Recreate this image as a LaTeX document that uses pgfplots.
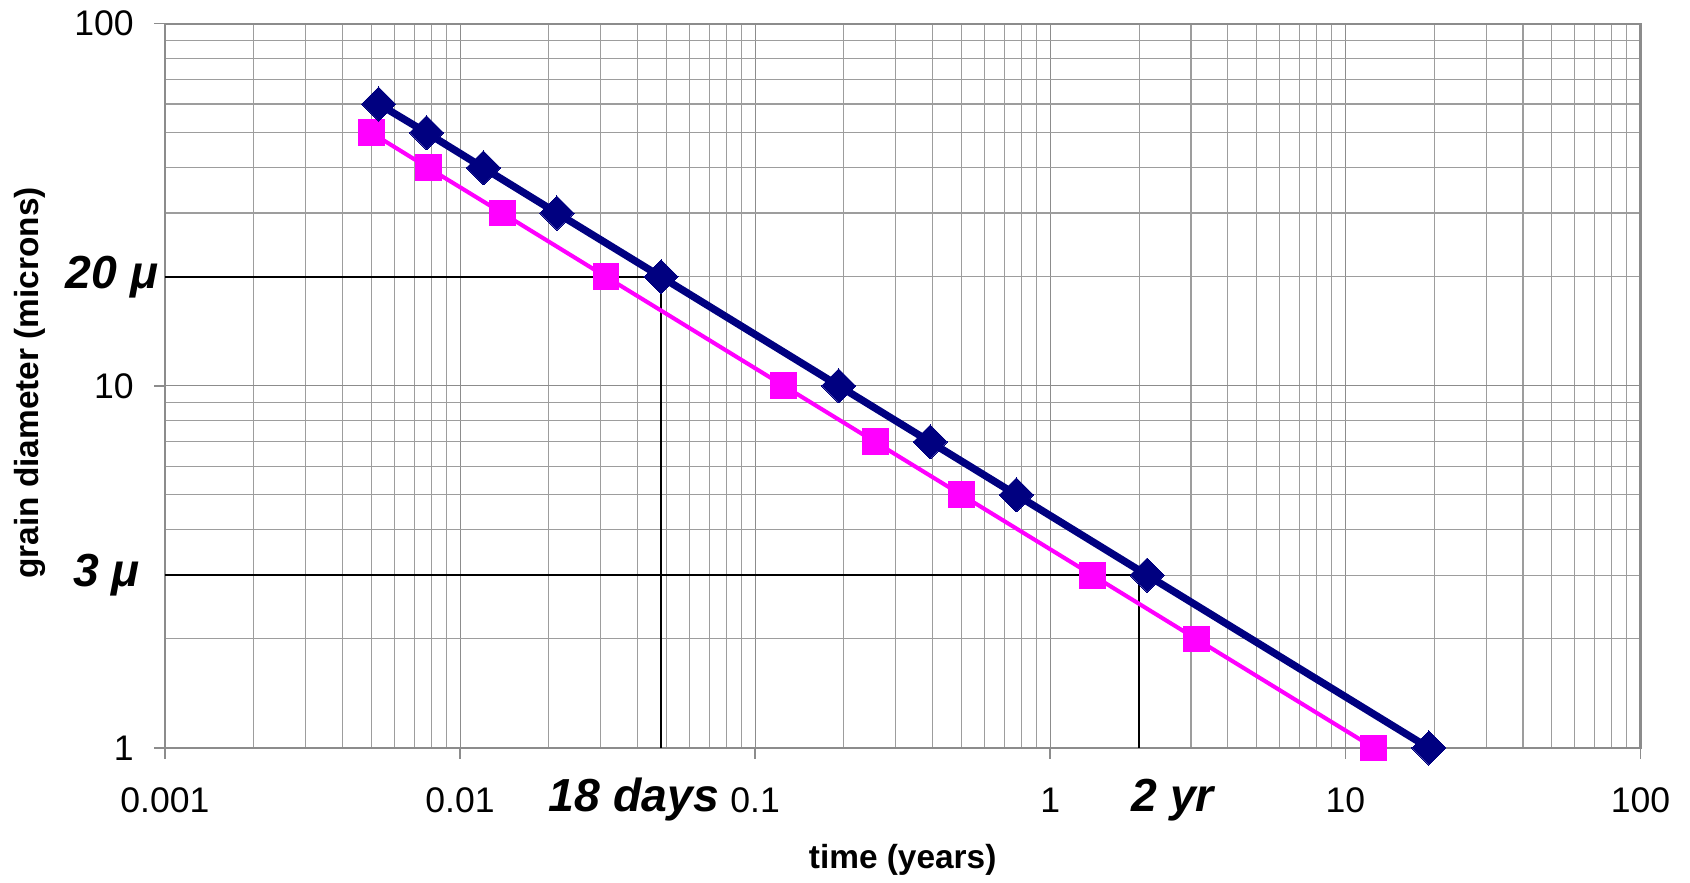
\documentclass[border=0pt]{standalone}
\usepackage{pgfplots}
\pgfplotsset{compat=1.18}
\usepackage{fontspec}
\setmainfont{Liberation Sans}
\definecolor{navyser}{HTML}{000080}
\definecolor{pinkser}{HTML}{FF00FF}
\definecolor{gridc}{HTML}{8C8C8C}
\begin{document}
\begin{tikzpicture}
\begin{axis}[
  scale only axis,
  width=684.5pt, height=336pt,
  xmode=log, ymode=log,
  xmin=0.001, xmax=100, ymin=1, ymax=100,
  xtick={0.001,0.01,0.1,1,10,100},
  xticklabels={0.001,0.01,0.1,1,10,100},
  ytick={1,10,100},
  yticklabels={1,10,100},
  minor xtick={0.002,0.003,0.004,0.005,0.006,0.007,0.008,0.009,
               0.02,0.03,0.04,0.05,0.06,0.07,0.08,0.09,
               0.2,0.3,0.4,0.5,0.6,0.7,0.8,0.9,
               2,3,4,5,6,7,8,9,
               20,30,40,50,60,70,80,90},
  minor ytick={2,3,4,5,6,7,8,9,20,30,40,50,60,70,80,90},
  xtick pos=bottom, ytick pos=left,
  /pgf/number format/assume math mode=true,
  tick label style={font=\fontsize{16.5}{18}\selectfont},
  xticklabel style={yshift=-10pt},
  yticklabel style={xshift=-6pt},
  grid=both,
  major grid style={gridc, line width=0.5pt},
  minor grid style={gridc!85, line width=0.5pt},
  tick align=outside,
  major tick length=5pt,
  minor tick length=0pt,
  tick style={gridc, line width=0.7pt},
  axis line style={gridc, line width=1pt},
  xlabel={\bfseries time (years)},
  ylabel={\bfseries grain diameter (microns)},
  label style={font=\fontsize{15.5}{18}\selectfont},
  xlabel style={at={(axis description cs:0.5,-0.155)}, anchor=center},
  ylabel style={at={(axis description cs:-0.0913,0.504)}, anchor=center},
  clip=false,
]
% annotation guide lines
\addplot[black, line width=0.8pt] coordinates {(0.001,20) (0.048,20) (0.048,1)};
\addplot[black, line width=0.8pt] coordinates {(0.001,3) (2,3) (2,1)};
% pink series
\addplot[pinkser, line width=1.9pt, mark=square*, mark size=6pt, mark options={solid, fill=pinkser, draw=pinkser, line width=0pt}]
 coordinates {(0.005,50) (0.0078,40) (0.0139,30) (0.03125,20) (0.125,10) (0.255,7) (0.5,5) (1.39,3) (3.125,2) (12.5,1)};
% navy series
\addplot[navyser, line width=3.4pt, mark=square*, mark size=5.6pt, mark options={solid, rotate=45, fill=navyser, draw=navyser, line width=0pt}]
 coordinates {(0.0053,60) (0.0077,50) (0.012,40) (0.0213,30) (0.048,20) (0.192,10) (0.392,7) (0.768,5) (2.13,3) (19.2,1)};
% labels
\node[anchor=east, font=\fontsize{21.5}{24}\selectfont\bfseries\itshape, inner sep=0pt] at (axis cs:0.001,20) [xshift=-3pt] {20 μ};
\node[anchor=east, font=\fontsize{21.5}{24}\selectfont\bfseries\itshape, inner sep=0pt] at (axis cs:0.001,3) [xshift=-11.5pt] {3 μ};
\node[anchor=center, font=\fontsize{21.5}{24}\selectfont\bfseries\itshape] at (rel axis cs:0.3178,-0.0714) {18 days};
\node[anchor=center, font=\fontsize{21.5}{24}\selectfont\bfseries\itshape] at (rel axis cs:0.683,-0.0714) {2 yr};
\coordinate (bl) at (rel axis cs:-0.1118,-0.1815);
\coordinate (tr) at (rel axis cs:1.0336,1.0327);
\end{axis}
\path (bl) rectangle (tr);
\end{tikzpicture}
\end{document}
